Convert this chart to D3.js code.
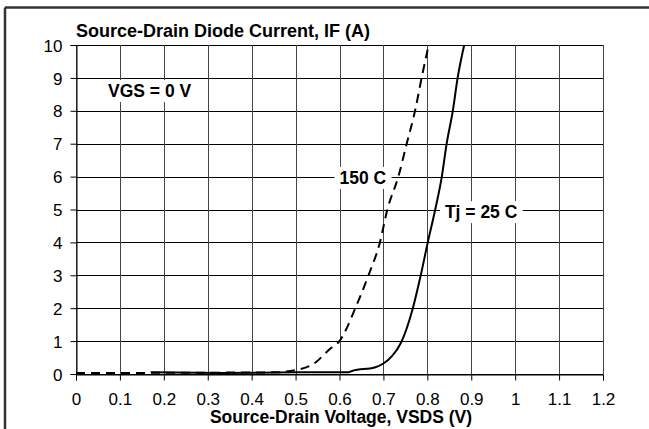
<!DOCTYPE html>
<html>
<head>
<meta charset="utf-8">
<script src="https://cdn.jsdelivr.net/npm/d3@7"></script>
<style>
  body { margin: 0; background: #fff; }
  text { font-family: "Liberation Sans", Arial, sans-serif; }
</style>
</head>
<body>
<svg id="chart" width="649" height="429"></svg>
<script>
// values (V, A)
var vsd25 = [0.17, 0.33, 0.5, 0.62, 0.63, 0.68, 0.70, 0.72, 0.74, 0.767, 0.785, 0.801, 0.818, 0.833, 0.844, 0.858, 0.869, 0.884];
var if25  = [0.05, 0.03, 0.05, 0.05, 0.1, 0.2, 0.32, 0.55, 0.95, 2, 3, 4, 5, 6, 7, 8, 9, 10];

var vsd150 = [0, 0.45, 0.5, 0.54, 0.58, 0.6, 0.636, 0.666, 0.692, 0.709, 0.734, 0.753, 0.772, 0.787, 0.803];
var if150  = [0.03, 0.05, 0.12, 0.3, 0.78, 1.0, 2, 3, 4, 5, 6, 7, 8, 9, 10];

var xTicks = [0, 0.1, 0.2, 0.3, 0.4, 0.5, 0.6, 0.7, 0.8, 0.9, 1, 1.1, 1.2];
var yTicks = [0, 1, 2, 3, 4, 5, 6, 7, 8, 9, 10];

var svg = d3.select("#chart");

var margin = {left: 76, right: 46, top: 45, bottom: 55},
    width = 649 - margin.left - margin.right,
    height = 429 - margin.top - margin.bottom;

// outer frame (only top and left edges show)
svg.append("line").attr("x1", 5).attr("x2", 649).attr("y1", 7.5).attr("y2", 7.5)
    .attr("stroke", "#333").attr("stroke-width", 2.5);
svg.append("line").attr("x1", 5).attr("x2", 5).attr("y1", 7.5).attr("y2", 429)
    .attr("stroke", "#333").attr("stroke-width", 2.5);

var x = d3.scaleLinear().domain([0, 1.2]).range([0, width]);
var y = d3.scaleLinear().domain([0, 10]).range([height, 0]);

var g = svg.append("g")
    .attr("transform", "translate(" + margin.left + "," + margin.top + ")");

// grid
g.selectAll(".hgrid")
  .data(yTicks)
  .enter().append("line")
    .attr("class", "hgrid")
    .attr("x1", 0).attr("x2", width)
    .attr("y1", function(d) { return Math.round(y(d)) + 0.5; })
    .attr("y2", function(d) { return Math.round(y(d)) + 0.5; })
    .attr("stroke", "#000").attr("stroke-width", 1);

g.selectAll(".vgrid")
  .data(xTicks)
  .enter().append("line")
    .attr("class", "vgrid")
    .attr("y1", 0).attr("y2", height)
    .attr("x1", function(d) { return Math.round(x(d)) + 0.5; })
    .attr("x2", function(d) { return Math.round(x(d)) + 0.5; })
    .attr("stroke", "#444").attr("stroke-width", 1);

// axes
var xAxis = g.append("g")
    .attr("transform", "translate(0," + (Math.round(height) + 0.5) + ")")
    .call(d3.axisBottom(x).tickValues(xTicks).tickSize(6).tickPadding(12)
      .tickFormat(function(d) { return d === 0 || d === 1 ? d : d3.format(".1f")(d); }));

var yAxis = g.append("g")
    .attr("transform", "translate(0.5,0)")
    .call(d3.axisLeft(y).tickValues(yTicks).tickSize(6).tickPadding(8));

[xAxis, yAxis].forEach(function(a) {
  a.select(".domain").attr("stroke", "#000");
  a.selectAll(".tick line").attr("stroke", "#000");
  a.selectAll(".tick text")
    .attr("font-family", "'Liberation Sans', Arial, sans-serif")
    .attr("font-size", 17).attr("fill", "#000");
});
yAxis.selectAll(".tick text").attr("dy", "0.36em");

// curves
var line = d3.line()
    .x(function(d) { return x(d[0]); })
    .y(function(d) { return y(d[1]); })
    .curve(d3.curveMonotoneX);

g.append("path")
    .datum(d3.zip(vsd150, if150))
    .attr("d", line)
    .attr("fill", "none")
    .attr("stroke", "#000")
    .attr("stroke-width", 2)
    .attr("stroke-dasharray", "9,6");

g.append("path")
    .datum(d3.zip(vsd25, if25))
    .attr("d", line)
    .attr("fill", "none")
    .attr("stroke", "#000")
    .attr("stroke-width", 2);

// labels with white boxes
function boxLabel(vx, vy, txt) {
  var lg = g.append("g");
  var t = lg.append("text")
      .attr("x", x(vx)).attr("y", y(vy))
      .attr("dy", "0.36em")
      .attr("font-size", 17.5)
      .attr("font-weight", "bold")
      .text(txt);
  var b = t.node().getBBox();
  lg.insert("rect", "text")
      .attr("x", b.x - 5).attr("y", y(vy) - 11)
      .attr("width", b.width + 10).attr("height", 22)
      .attr("fill", "#fff");
}
boxLabel(0.073, 8.6, "VGS = 0 V");
boxLabel(0.6, 5.96, "150 C");
boxLabel(0.84, 4.92, "Tj = 25 C");

// titles
svg.append("text")
    .attr("x", 76).attr("y", 37)
    .attr("font-size", 18)
    .attr("font-weight", "bold")
    .text("Source-Drain Diode Current, IF (A)");

svg.append("text")
    .attr("x", 341).attr("y", 423)
    .attr("text-anchor", "middle")
    .attr("font-size", 17.5)
    .attr("font-weight", "bold")
    .text("Source-Drain Voltage, VSDS (V)");
</script>
</body>
</html>
